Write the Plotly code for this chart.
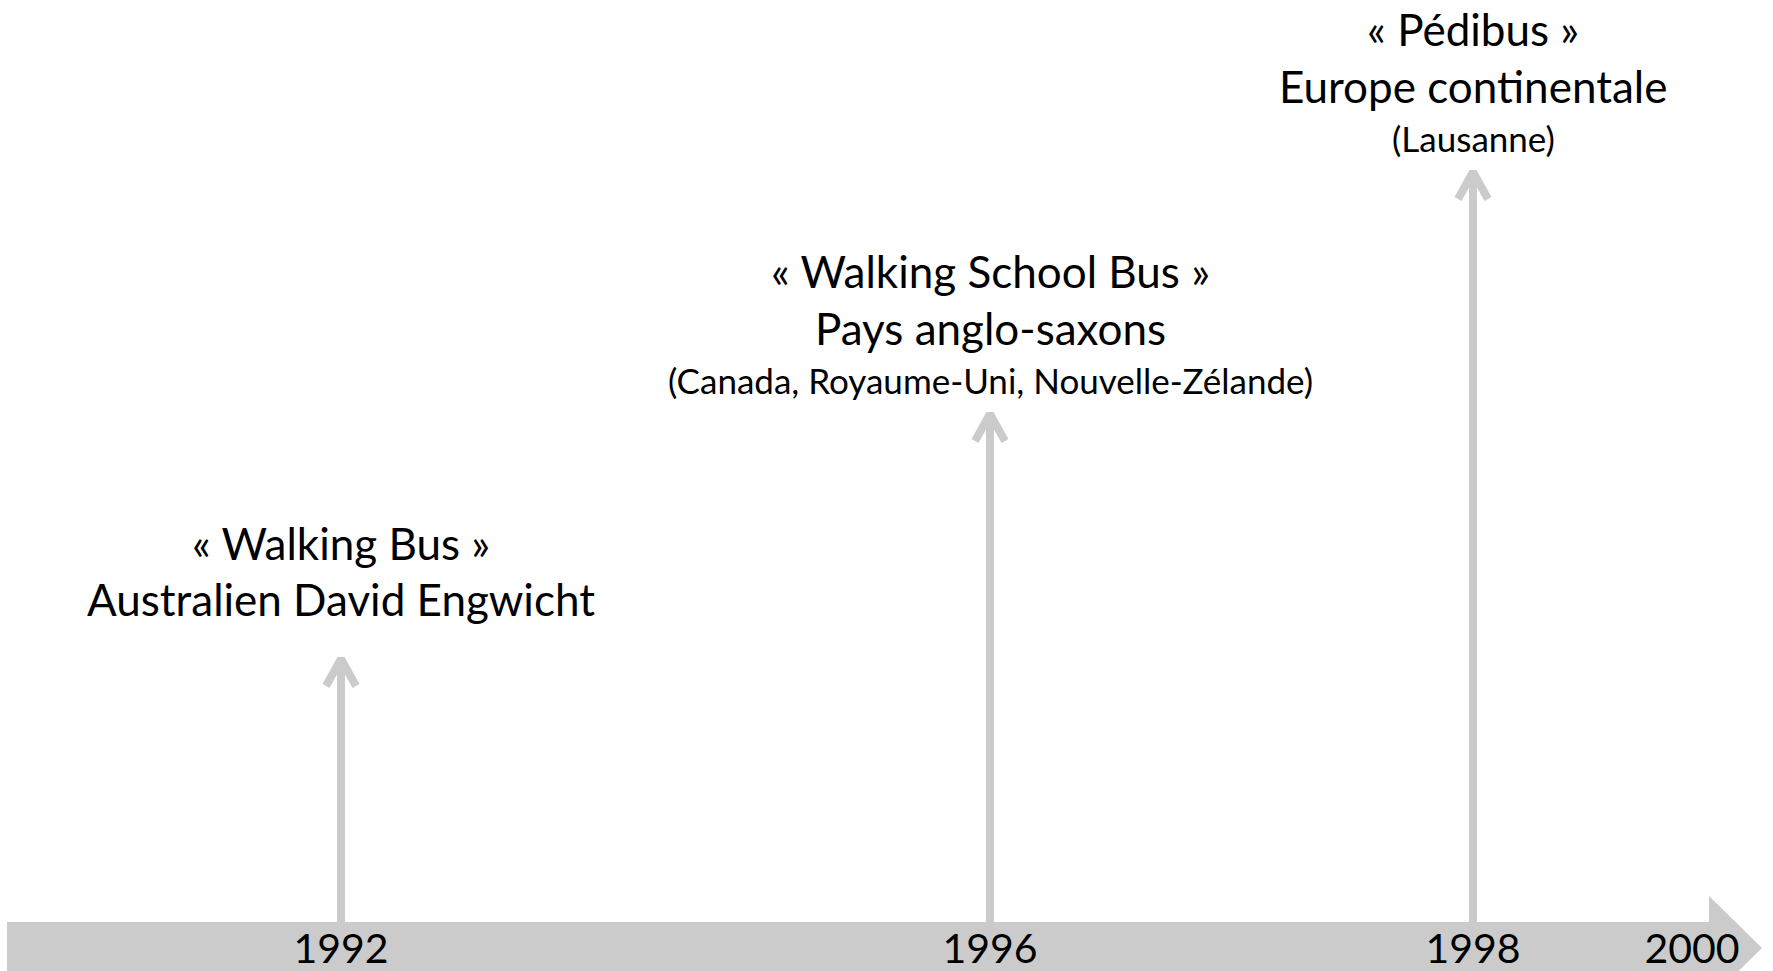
import plotly.graph_objects as go

# ---- data ----
years = ["1992", "1996", "1998", "2000"]
year_pos = [341, 990, 1473, 1692]          # schematic position along the timeline
event_years = ["1992", "1996", "1998"]
event_level = [312, 557, 799]              # height reached by each event arrow
event_titles = ["« Walking Bus »", "« Walking School Bus »", "« Pédibus »"]
event_places = ["Australien David Engwicht", "Pays anglo-saxons", "Europe continentale"]
event_details = ["", "(Canada, Royaume-Uni, Nouvelle-Zélande)", "(Lausanne)"]

# ---- style ----
W, H = 1773, 971
GRAY = "#cbcbcb"
FONT = "Lato"
BIG = 44
SMALL = 35
YEAR = 41
band_y, band_half, head_half = 23, 26, 52
band_x0, band_x1, band_tip = 7, 1709, 1762
label_y = 18

fig = go.Figure()

# timeline band with arrow head
fig.add_trace(go.Scatter(
    x=[band_x0, band_x1, band_x1, band_tip, band_x1, band_x1, band_x0, band_x0],
    y=[band_y + band_half, band_y + band_half, band_y + head_half, band_y,
       band_y - head_half, band_y - band_half, band_y - band_half, band_y + band_half],
    mode="lines", fill="toself", fillcolor=GRAY, line=dict(width=0, color=GRAY),
    hoverinfo="skip", showlegend=False))

pos = dict(zip(years, year_pos))

# event arrows
for yr, lvl in zip(event_years, event_level):
    x = pos[yr]
    fig.add_trace(go.Scatter(
        x=[x, x, None, x - 15, x, x + 15],
        y=[band_y + band_half, lvl, None, lvl - 27, lvl, lvl - 27],
        mode="lines", line=dict(color=GRAY, width=8),
        hoverinfo="skip", showlegend=False))

# year labels
fig.add_trace(go.Scatter(
    x=year_pos, y=[label_y] * len(years), text=years, mode="text",
    textfont=dict(family=FONT, size=YEAR, color="black"),
    hoverinfo="skip", showlegend=False))

# event texts
for yr, lvl, t, p, d in zip(event_years, event_level, event_titles, event_places, event_details):
    x = pos[yr]
    if d:
        lines = [(d, SMALL, lvl + 34), (p, BIG, lvl + 86), (t, BIG, lvl + 143)]
    else:
        lines = [(p, BIG, lvl + 60), (t, BIG, lvl + 116)]
    for txt, sz, yy in lines:
        fig.add_annotation(x=x, y=yy, text=txt, showarrow=False,
                           xanchor="center", yanchor="middle",
                           font=dict(family=FONT, size=sz, color="black"))

fig.update_layout(
    width=W, height=H, margin=dict(l=0, r=0, t=0, b=0),
    paper_bgcolor="white", plot_bgcolor="white",
    xaxis=dict(range=[0, W], visible=False, fixedrange=True),
    yaxis=dict(range=[0, H], visible=False, fixedrange=True),
)

fig.write_html(
    "out.html",
    config={"displayModeBar": False},
    post_script="document.body.style.margin='0';document.body.style.overflow='hidden';",
)
